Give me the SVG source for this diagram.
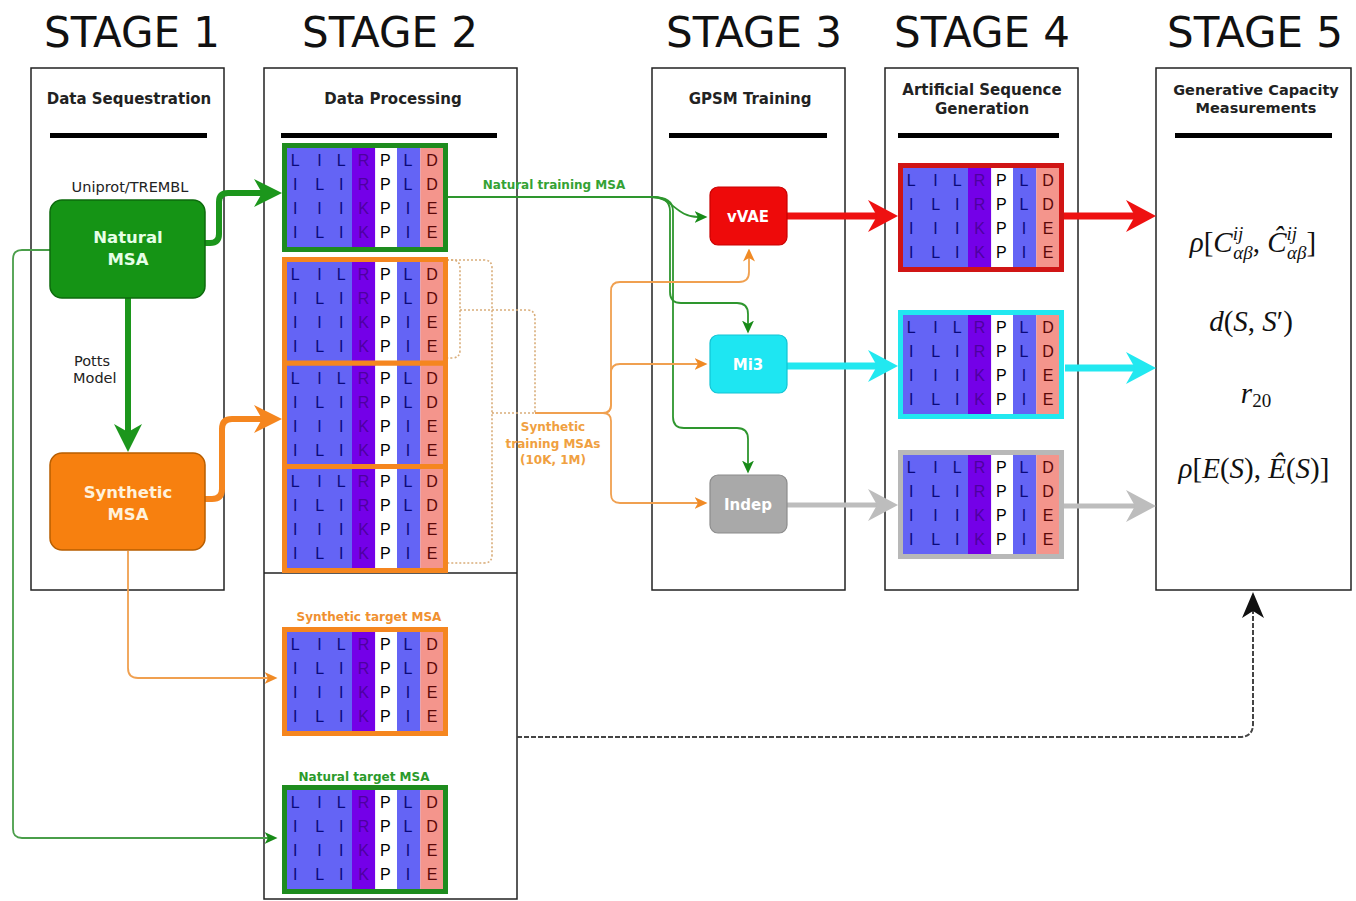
<svg xmlns="http://www.w3.org/2000/svg" width="1356" height="901" viewBox="0 0 1356 901">
<style>
.stage{font-family:"DejaVu Sans",Verdana,sans-serif;font-size:42px;fill:#111}
.hdr{font-family:"DejaVu Sans",Verdana,sans-serif;font-weight:bold;font-size:15px;fill:#222;text-anchor:middle}
.box{fill:#fff;stroke:#222;stroke-width:1.5}
.bar{fill:#000}
.lbl{font-family:"DejaVu Sans",Verdana,sans-serif;font-size:14.5px;fill:#222}
.ntxt{font-family:"DejaVu Sans",Verdana,sans-serif;font-weight:bold;font-size:16.5px;text-anchor:middle}
.ctxt{font-family:"DejaVu Sans",Verdana,sans-serif;font-weight:bold;font-size:15px;fill:#fff;text-anchor:middle}
.clbl{font-family:"DejaVu Sans",Verdana,sans-serif;font-weight:bold;font-size:12px;text-anchor:middle}
.m{font-family:"Liberation Sans",Arial,sans-serif;font-size:16px;text-anchor:middle}
.lb{fill:#0a0a7a}.lp{fill:#4e00a0}.lk{fill:#000}.ls{fill:#5a0808}
.brd{fill:none;stroke-width:5}
.math{font-family:"Liberation Serif","Times New Roman",serif;font-size:29px;fill:#111;text-anchor:middle}
.it{font-style:italic}
.ss{font-family:"Liberation Serif","Times New Roman",serif;font-style:italic;font-size:19px}
.thick{fill:none;stroke-width:6}
.thin{fill:none;stroke-width:1.8}
.dot{fill:none;stroke:#d9ad7a;stroke-width:1.6;stroke-dasharray:2,2}
</style>
<defs>
<g id="msa">
<rect x="0" y="0" width="65" height="99" fill="#6464f5"/>
<rect x="65" y="0" width="23.3" height="99" fill="#7400e8"/>
<rect x="88.3" y="0" width="21.7" height="99" fill="#ffffff"/>
<rect x="110" y="0" width="23.3" height="99" fill="#6464f5"/>
<rect x="133.3" y="0" width="22.7" height="99" fill="#f4958c"/>
<g class="m lb">
<text x="8.3" y="18">L</text><text x="32.6" y="18">I</text><text x="54.3" y="18">L</text><text x="121" y="18">L</text>
<text x="8.3" y="42">I</text><text x="32.6" y="42">L</text><text x="54.3" y="42">I</text><text x="121" y="42">L</text>
<text x="8.3" y="66">I</text><text x="32.6" y="66">I</text><text x="54.3" y="66">I</text><text x="121" y="66">I</text>
<text x="8.3" y="90">I</text><text x="32.6" y="90">L</text><text x="54.3" y="90">I</text><text x="121" y="90">I</text>
</g>
<g class="m lp">
<text x="76.6" y="18">R</text><text x="76.6" y="42">R</text><text x="76.6" y="66">K</text><text x="76.6" y="90">K</text>
</g>
<g class="m lk">
<text x="98.3" y="18">P</text><text x="98.3" y="42">P</text><text x="98.3" y="66">P</text><text x="98.3" y="90">P</text>
</g>
<g class="m ls">
<text x="145" y="18">D</text><text x="145" y="42">D</text><text x="145" y="66">E</text><text x="145" y="90">E</text>
</g>
</g>
<marker id="hG" markerUnits="userSpaceOnUse" markerWidth="28" markerHeight="28" refX="8" refY="14" orient="auto"><path d="M0,0 L28,14 L0,28 L8,14 Z" fill="#1c961c"/></marker>
<marker id="hO" markerUnits="userSpaceOnUse" markerWidth="28" markerHeight="28" refX="8" refY="14" orient="auto"><path d="M0,0 L28,14 L0,28 L8,14 Z" fill="#f5861f"/></marker>
<marker id="hR" markerUnits="userSpaceOnUse" markerWidth="30" markerHeight="32" refX="9" refY="16" orient="auto"><path d="M0,0 L30,16 L0,32 L9,16 Z" fill="#ee1111"/></marker>
<marker id="hC" markerUnits="userSpaceOnUse" markerWidth="30" markerHeight="32" refX="9" refY="16" orient="auto"><path d="M0,0 L30,16 L0,32 L9,16 Z" fill="#22e8f0"/></marker>
<marker id="hY" markerUnits="userSpaceOnUse" markerWidth="30" markerHeight="32" refX="9" refY="16" orient="auto"><path d="M0,0 L30,16 L0,32 L9,16 Z" fill="#bdbdbd"/></marker>
<marker id="tG" markerUnits="userSpaceOnUse" markerWidth="13" markerHeight="12" refX="3.5" refY="6" orient="auto"><path d="M0,0 L13,6 L0,12 L3.5,6 Z" fill="#178a17"/></marker>
<marker id="tO" markerUnits="userSpaceOnUse" markerWidth="13" markerHeight="12" refX="3.5" refY="6" orient="auto"><path d="M0,0 L13,6 L0,12 L3.5,6 Z" fill="#f08a25"/></marker>
<marker id="tK" markerUnits="userSpaceOnUse" markerWidth="26" markerHeight="22" refX="7" refY="11" orient="auto"><path d="M0,0 L26,11 L0,22 L7,11 Z" fill="#111"/></marker>
</defs>
<rect x="0" y="0" width="1356" height="901" fill="#fff"/>

<g id="stage-titles">
<text class="stage" x="44" y="47" textLength="176" lengthAdjust="spacingAndGlyphs">STAGE 1</text>
<text class="stage" x="302" y="47" textLength="176" lengthAdjust="spacingAndGlyphs">STAGE 2</text>
<text class="stage" x="666" y="47" textLength="176" lengthAdjust="spacingAndGlyphs">STAGE 3</text>
<text class="stage" x="894" y="47" textLength="176" lengthAdjust="spacingAndGlyphs">STAGE 4</text>
<text class="stage" x="1167" y="47" textLength="176" lengthAdjust="spacingAndGlyphs">STAGE 5</text>
</g>

<g id="stage1">
<rect class="box" x="31" y="68" width="193" height="522"/>
<text class="hdr" x="129" y="104">Data Sequestration</text>
<rect class="bar" x="50" y="133" width="157" height="5"/>
<text class="lbl" x="130" y="192" text-anchor="middle">Uniprot/TREMBL</text>
<text class="lbl" x="74" y="366">Potts</text>
<text class="lbl" x="73" y="383">Model</text>
</g>
<g id="stage2">
<rect class="box" x="264" y="68" width="253" height="831"/>
<line x1="264" y1="573" x2="517" y2="573" stroke="#222" stroke-width="1.5"/>
<text class="hdr" x="393" y="104">Data Processing</text>
<rect class="bar" x="281" y="133" width="216" height="5"/>
</g>
<g id="stage3">
<rect class="box" x="652" y="68" width="193" height="522"/>
<text class="hdr" x="750" y="104">GPSM Training</text>
<rect class="bar" x="669" y="133" width="158" height="5"/>
</g>
<g id="stage4">
<rect class="box" x="885" y="68" width="193" height="522"/>
<text class="hdr" x="982" y="95">Artificial Sequence</text>
<text class="hdr" x="982" y="114">Generation</text>
<rect class="bar" x="898" y="133" width="161" height="5"/>
</g>
<g id="stage5">
<rect class="box" x="1156" y="68" width="195" height="522"/>
<text class="hdr" x="1256" y="95" style="font-size:14.5px">Generative Capacity</text>
<text class="hdr" x="1256" y="113" style="font-size:14.5px">Measurements</text>
<rect class="bar" x="1175" y="133" width="157" height="5"/>
</g>

<g id="connectors">
<path class="thin" stroke="#4a9e4a" d="M50,250 L22,250 Q13,250 13,259 L13,829 Q13,838 22,838 L268,838" marker-end="url(#tG)"/>
<path class="thin" stroke="#f0a050" d="M128,551 L128,668 Q128,678 138,678 L268,678" marker-end="url(#tO)"/>
<path class="thick" stroke="#1c961c" d="M128,298 L128,432" marker-end="url(#hG)"/>
<path class="thick" stroke="#1c961c" d="M205,243 L210,243 Q219,243 219,234 L219,202 Q219,193 228,193 L262,193" marker-end="url(#hG)"/>
<path class="thick" stroke="#f5861f" d="M205,499 L212,499 Q222,499 222,489 L222,429 Q222,419 232,419 L262,419" marker-end="url(#hO)"/>
<path class="thin" stroke="#2e962e" d="M447,197 L652,197 C672,197 676,217 698,217" marker-end="url(#tG)"/>
<path class="thin" stroke="#2e962e" d="M652,197 Q670,197 670,211 L670,292 Q670,303 681,303 L737,303 Q748,303 748,314 L748,324" marker-end="url(#tG)"/>
<path class="thin" stroke="#2e962e" d="M652,197 Q673,197 673,211 L673,417 Q673,428 684,428 L737,428 Q748,428 748,439 L748,464" marker-end="url(#tG)"/>
<path class="dot" d="M447,260 L452,260 Q460,260 460,268 L460,350 Q460,358 452,358 L447,358 M460,310 L527,310 Q535,310 535,318 L535,413"/>
<path class="dot" d="M447,260 L484,260 Q492,260 492,268 L492,555 Q492,563 484,563 L447,563 M492,413 L535,413"/>
<path class="thin" stroke="#f0a050" d="M535,413 L603,413 Q611,413 611,405 L611,291 Q611,282 620,282 L739,282 Q749,282 749,272 L749,258" marker-end="url(#tO)"/>
<path class="thin" stroke="#f0a050" d="M603,413 Q611,413 611,405 L611,373 Q611,364 620,364 L698,364" marker-end="url(#tO)"/>
<path class="thin" stroke="#f0a050" d="M603,413 Q611,413 611,421 L611,494 Q611,503 620,503 L698,503" marker-end="url(#tO)"/>
<path fill="none" stroke="#ee1111" stroke-width="7" d="M787,216 L877,216" marker-end="url(#hR)"/>
<path fill="none" stroke="#ee1111" stroke-width="7" d="M1063,216 L1135,216" marker-end="url(#hR)"/>
<path fill="none" stroke="#22e8f0" stroke-width="7" d="M787,366 L877,366" marker-end="url(#hC)"/>
<path fill="none" stroke="#22e8f0" stroke-width="7" d="M1065,368 L1135,368" marker-end="url(#hC)"/>
<path fill="none" stroke="#bdbdbd" stroke-width="5" d="M787,505 L877,505" marker-end="url(#hY)"/>
<path fill="none" stroke="#bdbdbd" stroke-width="5" d="M1063,506 L1135,506" marker-end="url(#hY)"/>
<path fill="none" stroke="#444" stroke-width="2" stroke-dasharray="5,2" d="M517,737 L1240,737 Q1253,737 1253,724 L1253,611" marker-end="url(#tK)"/>
<text class="clbl" x="554" y="189" fill="#34a234">Natural training MSA</text>
<text class="clbl" x="553" y="431" fill="#f0a040">Synthetic</text>
<text class="clbl" x="553" y="447.5" fill="#f0a040">training MSAs</text>
<text class="clbl" x="553" y="464" fill="#f0a040">(10K, 1M)</text>
</g>

<g id="natural-msa">
<rect x="50" y="200" width="155" height="98" rx="12" fill="#159415" stroke="#0c6a0c" stroke-width="1.5"/>
<text class="ntxt" x="128" y="243" fill="#e6ffe6">Natural</text>
<text class="ntxt" x="128" y="265" fill="#e6ffe6">MSA</text>
</g>
<g id="synthetic-msa">
<rect x="50" y="453" width="155" height="97" rx="12" fill="#f7800f" stroke="#b85e00" stroke-width="1.5"/>
<text class="ntxt" x="128" y="498" fill="#fff2dc">Synthetic</text>
<text class="ntxt" x="128" y="520" fill="#fff2dc">MSA</text>
</g>

<g id="natural-training-msa">
<use href="#msa" x="287" y="148"/>
<rect class="brd" stroke="#1e8c1e" x="284.5" y="145.5" width="161" height="104"/>
</g>
<g id="synthetic-training-msa-1">
<use href="#msa" x="287" y="262"/>
<rect class="brd" stroke="#f5861f" x="284.5" y="259.5" width="161" height="104"/>
</g>
<g id="synthetic-training-msa-2">
<use href="#msa" x="287" y="365.5"/>
<rect class="brd" stroke="#f5861f" x="284.5" y="363" width="161" height="104"/>
</g>
<g id="synthetic-training-msa-3">
<use href="#msa" x="287" y="469"/>
<rect class="brd" stroke="#f5861f" x="284.5" y="466.5" width="161" height="104"/>
</g>
<g id="synthetic-target-msa">
<text class="clbl" x="369" y="621" fill="#f09030">Synthetic target MSA</text>
<use href="#msa" x="287" y="632"/>
<rect class="brd" stroke="#f5861f" x="284.5" y="629.5" width="161" height="104"/>
</g>
<g id="natural-target-msa">
<text class="clbl" x="364" y="781" fill="#2a9a2a">Natural target MSA</text>
<use href="#msa" x="287" y="790"/>
<rect class="brd" stroke="#1e8c1e" x="284.5" y="787.5" width="161" height="104"/>
</g>

<g id="vvae">
<rect x="710" y="187" width="77" height="58" rx="8" fill="#ee0a0a" stroke="#c80000" stroke-width="1.2"/>
<text class="ctxt" x="748" y="222">vVAE</text>
</g>
<g id="mi3">
<rect x="710" y="335" width="77" height="58" rx="8" fill="#1ee6f2" stroke="#12c4d4" stroke-width="1.2"/>
<text class="ctxt" x="748" y="370">Mi3</text>
</g>
<g id="indep">
<rect x="710" y="475" width="77" height="58" rx="8" fill="#a9a9a9" stroke="#8c8c8c" stroke-width="1.2"/>
<text class="ctxt" x="748" y="510">Indep</text>
</g>

<g id="vvae-msa">
<use href="#msa" x="903" y="168"/>
<rect class="brd" stroke="#d01515" x="900.5" y="165.5" width="161" height="104"/>
</g>
<g id="mi3-msa">
<use href="#msa" x="903" y="315"/>
<rect class="brd" stroke="#22e8f0" x="900.5" y="312.5" width="161" height="104"/>
</g>
<g id="indep-msa">
<use href="#msa" x="903" y="455"/>
<rect class="brd" stroke="#b8b8b8" x="900.5" y="452.5" width="161" height="104"/>
</g>

<g id="measurements">
<text class="math" x="1253" y="252"><tspan class="it">ρ</tspan>[<tspan class="it">C</tspan><tspan class="ss" dy="-12">ij</tspan><tspan class="ss" dx="-10" dy="19">αβ</tspan><tspan dy="-7">, </tspan><tspan class="it">Ĉ</tspan><tspan class="ss" dy="-12">ij</tspan><tspan class="ss" dx="-10" dy="19">αβ</tspan><tspan dy="-7">]</tspan></text>
<text class="math" x="1251" y="331"><tspan class="it">d</tspan>(<tspan class="it">S</tspan>, <tspan class="it">S</tspan>′)</text>
<text class="math" x="1256" y="403"><tspan class="it">r</tspan><tspan style="font-size:19px" dy="4">20</tspan></text>
<text class="math" x="1254" y="478"><tspan class="it">ρ</tspan>[<tspan class="it">E</tspan>(<tspan class="it">S</tspan>), <tspan class="it">Ê</tspan>(<tspan class="it">S</tspan>)]</text>
</g>
</svg>
